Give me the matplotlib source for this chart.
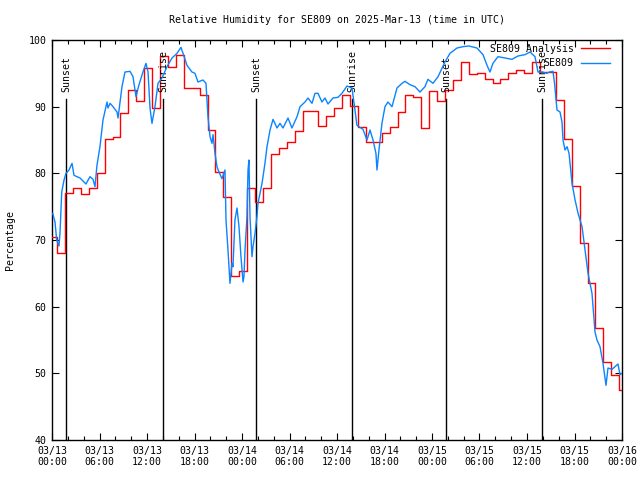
import numpy as np
import matplotlib
matplotlib.use("Agg")
import matplotlib.pyplot as plt
from matplotlib.ticker import MultipleLocator

# ---- data (time in hours since 2025-03-13 00:00 UTC) ----
analysis_vals = [70.4, 68.0, 77.0, 77.8, 76.9, 77.8, 80.0, 85.2, 85.5, 89.0,
                 92.5, 90.8, 95.8, 89.8, 97.6, 96.0, 97.8, 92.8, 92.8, 91.7,
                 86.5, 80.2, 76.5, 64.6, 65.3, 77.8, 75.7, 77.8, 82.9, 83.8,
                 84.7, 86.4, 89.3, 89.3, 87.1, 88.6, 89.8, 91.7, 90.1, 86.9,
                 84.7, 84.7, 86.0, 86.9, 89.2, 91.7, 91.5, 86.8, 92.4, 90.8,
                 92.5, 94.0, 96.7, 94.9, 95.0, 94.1, 93.5, 94.1, 95.0, 95.5,
                 95.0, 96.7, 95.2, 95.2, 91.0, 85.1, 78.1, 69.5, 63.6, 56.8,
                 51.7, 49.75, 47.5]
analysis_step_offset = 0.65  # hours past each hour where analysis value changes

obs_t = [0.09, 0.38, 0.59, 0.88, 1.01, 1.23, 1.52, 1.77, 2.15, 2.53, 2.78, 3.54,
         4.29, 4.80, 5.18, 5.43, 5.68, 6.06, 6.44, 6.95, 7.07, 7.33, 7.71, 8.21,
         8.34, 8.84, 9.22, 9.85, 10.23, 10.61, 10.99, 11.49, 11.87, 12.13, 12.38,
         12.63, 13.01, 13.39, 13.89, 14.53, 15.16, 15.79, 16.29, 16.55, 17.05,
         17.68, 18.06, 18.44, 19.07, 19.45, 19.70, 19.96, 20.21, 20.34, 20.59,
         20.84, 21.09, 21.47, 21.85, 21.98, 22.23, 22.48, 22.74, 22.86, 23.11,
         23.37, 23.49, 23.62, 23.87, 24.13, 24.25, 24.38, 24.63, 24.76, 24.88,
         25.01, 25.26, 25.39, 25.64, 25.89, 26.02, 26.53, 26.90, 27.16, 27.54,
         27.92, 28.42, 28.80, 29.18, 29.81, 30.31, 30.95, 31.33, 31.96, 32.34,
         32.84, 33.22, 33.60, 34.10, 34.48, 34.86, 35.49, 36.12, 36.63, 37.26,
         37.89, 38.27, 38.52, 38.90, 39.28, 39.79, 40.17, 40.55, 40.92, 41.05,
         41.30, 41.68, 42.06, 42.44, 42.95, 43.58, 44.21, 44.59, 45.22, 45.85,
         46.48, 47.11, 47.49, 48.12, 48.76, 49.64, 50.27, 51.16, 51.91, 52.67,
         53.68, 54.44, 54.95, 55.32, 55.70, 56.33, 57.22, 58.10, 58.86, 59.74,
         60.38, 61.01, 61.39, 61.96, 62.47, 62.85, 63.28, 63.48, 63.79, 64.17,
         64.42, 64.55, 64.80, 65.06, 65.31, 65.69, 66.07, 66.45, 66.95, 67.33,
         67.71, 68.21, 68.59, 68.84, 69.22, 69.60, 69.98, 70.23, 70.74, 71.12,
         71.49, 71.75, 72.0]
obs_v = [74.0, 72.7, 70.0, 69.1, 71.0, 77.2, 79.0, 80.0, 80.5, 81.5, 79.7, 79.3,
         78.4, 79.5, 79.1, 78.0, 81.2, 84.0, 88.0, 90.7, 89.8, 90.5, 90.0, 89.2,
         88.3, 93.0, 95.2, 95.3, 94.5, 91.5, 93.3, 95.2, 96.5, 95.2, 89.8,
         87.5, 90.0, 93.5, 94.3, 96.0, 97.3, 98.0, 98.9, 98.0, 96.2,
         95.2, 95.0, 93.7, 94.0, 93.5, 88.5, 85.5, 84.5, 85.8, 83.0,
         81.0, 80.2, 79.2, 80.5, 73.0, 68.5, 63.5, 66.5, 66.0, 73.0,
         74.8, 73.5, 72.0, 67.5, 63.7, 64.5, 68.5, 73.5, 80.5, 82.0,
         73.5, 67.5, 69.0, 71.0, 73.5, 75.5, 78.5, 81.5, 84.0, 86.5,
         88.1, 86.8, 87.5, 86.8, 88.3, 86.8, 88.5, 90.0, 90.7, 91.3,
         90.5, 92.0, 92.0, 90.7, 91.3, 90.4, 91.3, 91.4, 92.0, 93.1,
         92.8, 89.5, 87.2, 86.9, 86.6, 85.0, 86.5, 85.0, 83.0, 80.5,
         83.5, 87.5, 90.0, 90.7, 90.0, 92.8, 93.5, 93.8, 93.3, 93.0,
         92.2, 93.0, 94.1, 93.5, 94.5, 96.7, 98.0, 98.8, 99.0, 99.1,
         98.8, 97.8, 96.2, 95.2, 96.5, 97.5, 97.3, 97.1, 97.6, 97.8,
         98.2, 97.5, 95.2, 95.2, 95.0, 95.2, 95.3, 93.5, 89.5, 89.2,
         87.7, 85.0, 83.5, 84.0, 83.0, 78.5, 76.0, 74.0, 72.0, 68.5,
         65.0, 62.0, 56.2, 55.0, 54.0, 51.5, 48.2, 50.8, 50.6, 51.0,
         51.4, 49.8, 50.0]

sun_t = [1.77, 14.02, 25.77, 37.89, 49.77, 61.89]
sun_labels = ["Sunset", "Sunrise", "Sunset", "Sunrise", "Sunset", "Sunrise"]

xtick_hours = list(range(0, 73, 6))
xtick_labels = ["03/13\n00:00", "03/13\n06:00", "03/13\n12:00", "03/13\n18:00",
                "03/14\n00:00", "03/14\n06:00", "03/14\n12:00", "03/14\n18:00",
                "03/15\n00:00", "03/15\n06:00", "03/15\n12:00", "03/15\n18:00",
                "03/16\n00:00"]

# ---- plot ----
FS = 7.1
plt.rcParams['font.family'] = ['DejaVu Sans Mono']
fig = plt.figure(figsize=(6.4, 4.8), dpi=100)
ax = fig.add_axes([52/640, 40/480, 570/640, 400/480])

n = len(analysis_vals)
edges = [0.0] + [k + analysis_step_offset for k in range(n - 1)]
ax.step(edges + [72.0], analysis_vals + [analysis_vals[-1]], where='post',
        color='#ff0000', lw=1.0, label='SE809 Analysis', zorder=3)
ax.plot(obs_t, obs_v, color='#0a84ff', lw=1.0, label='SE809', zorder=4)

for t, lab in zip(sun_t, sun_labels):
    ax.plot([t, t], [40, 91.1], color='black', lw=1.0, zorder=2)
    ax.text(t + 0.1, 92.2, lab, rotation=90, ha='center', va='bottom',
            fontsize=FS, color='black')

ax.set_xlim(0, 72)
ax.set_ylim(40, 100)
ax.set_xticks(xtick_hours)
ax.set_xticklabels(xtick_labels, fontsize=FS)
ax.xaxis.set_minor_locator(MultipleLocator(2))
ax.set_yticks(range(40, 101, 10))
ax.tick_params(axis='y', labelsize=FS)
ax.tick_params(which='major', direction='in', length=5, width=0.8,
               top=True, right=True, pad=4)
ax.tick_params(which='minor', direction='in', length=3, width=0.8,
               top=True, right=True)
for s in ax.spines.values():
    s.set_linewidth(1.0)

ax.set_ylabel('Percentage', fontsize=FS, labelpad=10)
ax.set_title('Relative Humidity for SE809 on 2025-Mar-13 (time in UTC)',
             fontsize=FS, pad=12)

leg = ax.legend(loc='upper right', bbox_to_anchor=(1 - 4/570, 1 + 4/400),
                frameon=False, fontsize=FS,
                handlelength=3.0, markerfirst=False, borderaxespad=0.6,
                borderpad=0.2, labelspacing=0.45, handletextpad=0.7)

fig.savefig('out.png', dpi=100)
